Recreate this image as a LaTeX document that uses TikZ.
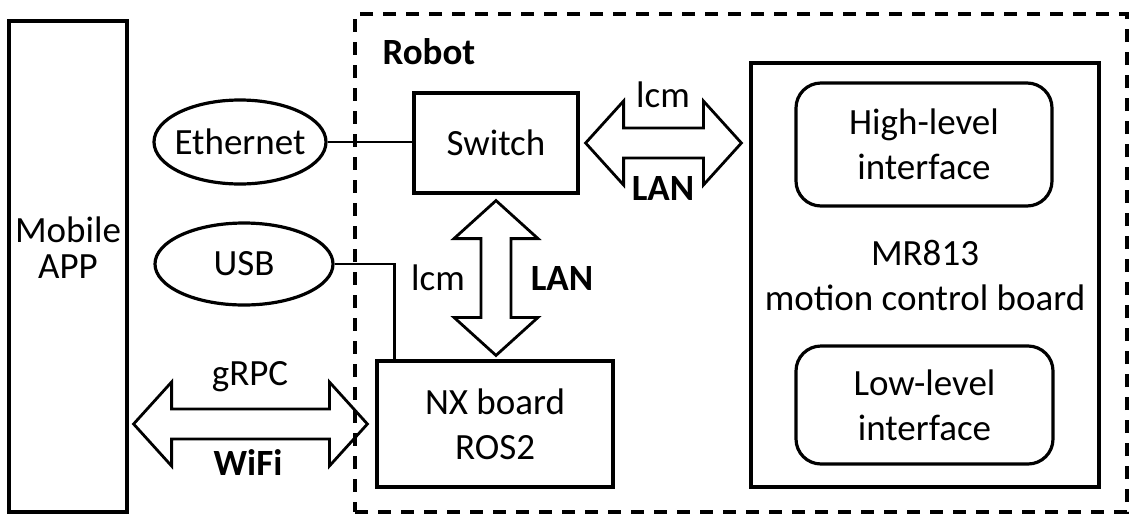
\documentclass[tikz,border=0pt]{standalone}
\usepackage{fontspec}
\setmainfont{Carlito}
\usetikzlibrary{calc,shapes.geometric}
\newcommand\mydblH[2]{\draw[arrowline] let \p1=(#1), \p2=(#2) in
 (\x1,\y1) -- (\x1+38pt,\y1+42pt) -- (\x1+38pt,\y1+15pt) -- (\x2-38pt,\y1+15pt) -- (\x2-38pt,\y1+42pt) -- (\x2,\y1) -- (\x2-38pt,\y1-42pt) -- (\x2-38pt,\y1-15pt) -- (\x1+38pt,\y1-15pt) -- (\x1+38pt,\y1-42pt) -- cycle;}
\newcommand\mydblV[2]{\draw[arrowline] let \p1=(#1), \p2=(#2) in
 (\x1,\y1) -- (\x1+42pt,\y1-38pt) -- (\x1+15pt,\y1-38pt) -- (\x1+15pt,\y2+38pt) -- (\x1+42pt,\y2+38pt) -- (\x1,\y2) -- (\x1-42pt,\y2+38pt) -- (\x1-15pt,\y2+38pt) -- (\x1-15pt,\y1-38pt) -- (\x1-42pt,\y1-38pt) -- cycle;}
\begin{document}
\begin{tikzpicture}[x=1pt,y=-1pt, line width=3.2pt,
  font=\fontsize{37}{45}\selectfont,
  box/.style={draw, rectangle, inner sep=0pt, align=center},
  rbox/.style={box, rounded corners=25pt},
  oval/.style={draw, ellipse, inner xsep=-12pt, inner ysep=-6pt},
  robotbox/.style={draw, rectangle, inner sep=0pt, dash pattern=on 13pt off 10pt},
  lbl/.style={anchor=base, inner sep=0pt},
  blbl/.style={lbl, font=\fontsize{37}{45}\selectfont\bfseries},
  arrowline/.style={draw, line width=2.8pt, line join=miter},
  wire/.style={draw, line width=2.8pt}]
\useasboundingbox (0,0) rectangle (1142,528);

% containers
\node[robotbox, minimum width=772pt, minimum height=498pt] (robot) at (741,263) {};
\node[blbl, anchor=base west] (robotlbl) at (381,64) {Robot};
\node[box, minimum width=118pt, minimum height=491pt] (mobile) at (68,266.5) {};
\node[inner sep=0pt, align=center, font=\fontsize{37}{36}\selectfont] (mobiletxt) at (68,248) {Mobile\\APP};

% nodes
\node[oval, minimum width=172pt, minimum height=84pt] (eth) at (240,142) {Ethernet};
\node[oval, minimum width=178pt, minimum height=82pt] (usb) at (244,264) {USB};
\node[box, minimum width=164pt, minimum height=100pt] (sw) at (496,143) {Switch};
\node[box, minimum width=236pt, minimum height=126pt] (nx) at (495,424) {NX board\\ROS2};
\node[box, minimum width=348pt, minimum height=424pt] (mr) at (925,275) {MR813\\motion control board};
\node[rbox, minimum width=256pt, minimum height=123pt] (high) at (924,144.5) {High-level\\interface};
\node[rbox, minimum width=257pt, minimum height=118pt] (low) at (924.5,405) {Low-level\\interface};

% wires
\draw[wire] (eth.east) -- (eth.east -| sw.west);
\draw[wire] (usb.east) -| ($(nx.north west)+(19,0)$);

% double arrows
\coordinate (a1s) at ($(sw.east)+(6,0)$);
\coordinate (a1e) at ($(sw.east -| mr.west)+(-8,0)$);
\mydblH{a1s}{a1e}
\node[lbl] (lcm1) at (663,107) {lcm};
\node[blbl] (lan1) at (663,200) {LAN};

\coordinate (a2s) at ($(sw.south)+(0,6)$);
\coordinate (a2e) at ($(nx.north -| sw.south)+(0,-4)$);
\mydblV{a2s}{a2e}
\node[lbl] (lcm2) at (438,290) {lcm};
\node[blbl] (lan2) at (562,290) {LAN};

\coordinate (a3s) at ($(nx.west -| mobile.east)+(5,0)$);
\coordinate (a3e) at ($(nx.west)+(-8,0)$);
\mydblH{a3s}{a3e}
\node[lbl] (grpc) at (250,385) {gRPC};
\node[blbl] (wifi) at (248,475) {WiFi};
\end{tikzpicture}
\end{document}
